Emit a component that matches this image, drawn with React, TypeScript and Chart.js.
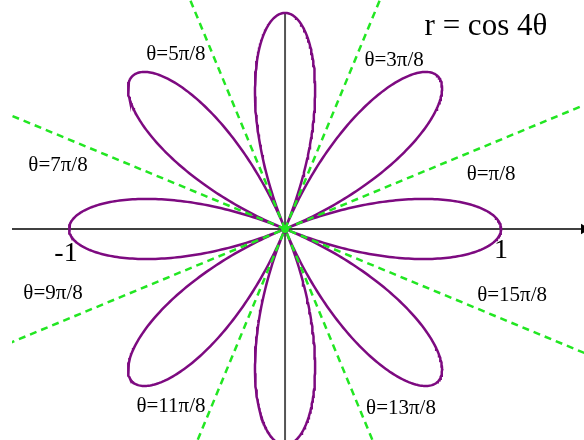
import React, { useEffect, useRef } from "react";
import { Chart, registerables } from "chart.js";

Chart.register(...registerables);

// r = cos(4θ): number of samples around the full circle
const petalCoefficient = 4;
const sampleCount = 1440;

// Zero lines of the rose (θ values, in units of π/8)
const zeroLineAngles = [1, 3, 5, 7]; // each line also covers the opposite direction (9,11,13,15)

// Angle labels: text and data-space positions
const angleLabels = ["θ=π/8", "θ=3π/8", "θ=5π/8", "θ=7π/8", "θ=9π/8", "θ=11π/8", "θ=13π/8", "θ=15π/8"];
const angleLabelX = [0.954, 0.505, -0.505, -1.051, -1.074, -0.528, 0.537, 1.051];
const angleLabelY = [0.25, 0.782, 0.806, 0.296, -0.301, -0.824, -0.829, -0.31];

const tickLabels = ["-1", "1"];
const tickLabelX = [-1.014, 1.0];
const tickLabelY = [-0.116, -0.102];

const titleText = "r = cos 4θ";

const X_MIN = -1.264;
const X_MAX = 1.384;
const Y_MIN = -0.977;
const Y_MAX = 1.06;

function rosePoints() {
  const pts: { x: number; y: number }[] = [];
  for (let i = 0; i <= sampleCount; i++) {
    const t = (i / sampleCount) * 2 * Math.PI;
    const r = Math.cos(petalCoefficient * t);
    pts.push({ x: r * Math.cos(t), y: r * Math.sin(t) });
  }
  return pts;
}

export default function App() {
  const ref = useRef<HTMLCanvasElement | null>(null);

  useEffect(() => {
    if (!ref.current) return;
    const green = "#22e622";
    const purple = "#7d0a80";

    const zeroLineSets = zeroLineAngles.map((k) => {
      const a = (k * Math.PI) / 8;
      const R = 3;
      return {
        type: "line" as const,
        data: [
          { x: -R * Math.cos(a), y: -R * Math.sin(a) },
          { x: R * Math.cos(a), y: R * Math.sin(a) },
        ],
        borderColor: green,
        borderWidth: 2.5,
        borderDash: [7, 5],
        pointRadius: 0,
        showLine: true,
        order: 1,
      };
    });

    const labelPlugin = {
      id: "labels",
      afterDraw(chart: any) {
        const ctx = chart.ctx;
        const xs = chart.scales.x;
        const ys = chart.scales.y;
        ctx.save();
        ctx.fillStyle = "#000";
        ctx.textAlign = "center";
        ctx.textBaseline = "middle";
        ctx.font = '21px "Liberation Serif"';
        angleLabels.forEach((t, i) => {
          ctx.fillText(t, xs.getPixelForValue(angleLabelX[i]), ys.getPixelForValue(angleLabelY[i]));
        });
        ctx.font = '28px "Liberation Serif"';
        tickLabels.forEach((t, i) => {
          ctx.fillText(t, xs.getPixelForValue(tickLabelX[i]), ys.getPixelForValue(tickLabelY[i]));
        });
        ctx.font = '31px "Liberation Serif"';
        ctx.fillText(titleText, xs.getPixelForValue(0.93), ys.getPixelForValue(0.935));
        ctx.restore();
      },
    };

    const chart = new Chart(ref.current, {
      type: "scatter",
      data: {
        datasets: [
          ...zeroLineSets,
          {
            type: "line",
            data: [{ x: 0, y: 0 }],
            pointRadius: 4,
            pointBackgroundColor: green,
            pointBorderWidth: 0,
            showLine: false,
            order: 0,
          } as any,
          {
            type: "line",
            data: rosePoints(),
            borderColor: purple,
            borderWidth: 2.5,
            pointRadius: 0,
            showLine: true,
            tension: 0,
            order: 2,
          } as any,
          {
            type: "line",
            data: [
              { x: X_MIN, y: 0 },
              { x: X_MAX, y: 0 },
            ],
            borderColor: "#000",
            borderWidth: 1.5,
            pointRadius: [0, 6],
            pointStyle: "triangle",
            rotation: 90,
            pointBackgroundColor: "#000",
            pointBorderWidth: 0,
            showLine: true,
            order: 3,
            clip: false,
          } as any,
          {
            type: "line",
            data: [
              { x: 0, y: 1 },
              { x: 0, y: Y_MIN },
            ],
            borderColor: "#555",
            borderWidth: 2,
            pointRadius: 0,
            showLine: true,
            order: 3,
          } as any,
        ],
      },
      options: {
        animation: false,
        responsive: false,
        maintainAspectRatio: false,
        layout: { autoPadding: false, padding: { left: 12, right: 0, top: 0, bottom: 0 } },
        plugins: { legend: { display: false }, tooltip: { enabled: false } },
        scales: {
          x: { type: "linear", min: X_MIN, max: X_MAX, display: false },
          y: { type: "linear", min: Y_MIN, max: Y_MAX, display: false },
        },
      },
      plugins: [labelPlugin],
    });
    return () => chart.destroy();
  }, []);

  return (
    <canvas
      ref={ref}
      width={584}
      height={440}
      style={{ position: "fixed", left: 0, top: 0, width: 584, height: 440, background: "#fff" }}
    />
  );
}
